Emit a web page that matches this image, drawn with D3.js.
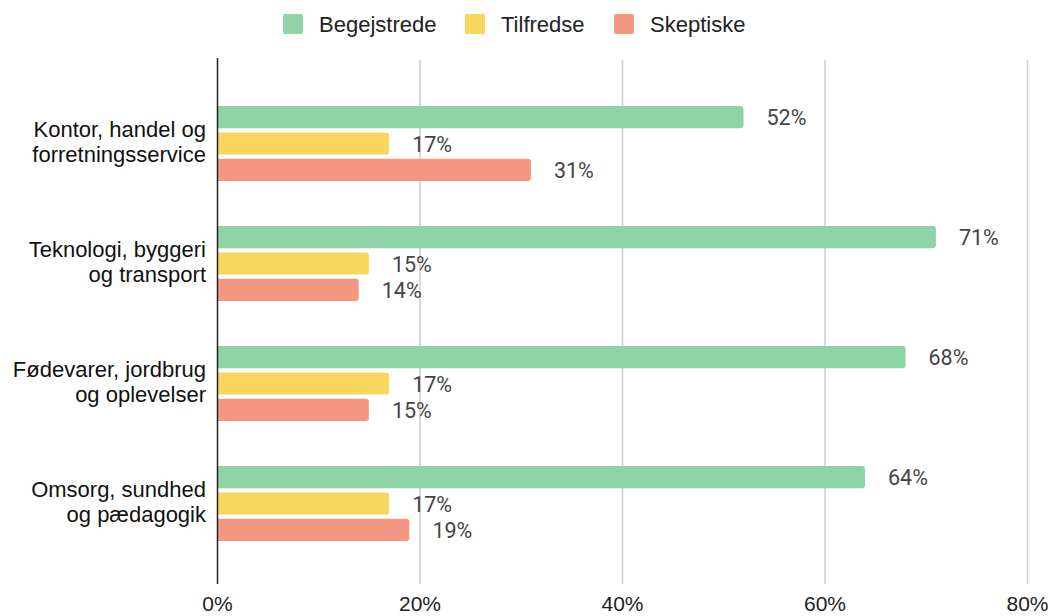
<!DOCTYPE html>
<html><head><meta charset="utf-8">
<script src="https://cdn.jsdelivr.net/npm/d3@7"></script>
<style>body{margin:0;background:#fff}svg{display:block}</style>
</head><body>
<svg id="c" width="1050" height="616"></svg>
<script>
const categories = [["Kontor, handel og","forretningsservice"],["Teknologi, byggeri","og transport"],["Fødevarer, jordbrug","og oplevelser"],["Omsorg, sundhed","og pædagogik"]];
const seriesNames = ["Begejstrede","Tilfredse","Skeptiske"];
const begejstrede = [52,71,68,64];
const tilfredse = [17,15,17,17];
const skeptiske = [31,14,15,19];
const tickValues = [0,20,40,60,80];
const colors = ["#8dd3a5","#f9d65e","#f59682"];

const series = [begejstrede, tilfredse, skeptiske];
const svg = d3.select("#c");
const x = d3.scaleLinear().domain([0,80]).range([217,1027]);
const y = d3.scaleBand().domain(d3.range(categories.length)).range([82,562]);
const yInner = d3.scaleBand().domain(d3.range(3)).range([24,99]).paddingInner(0.16);

// grid
svg.append("g").selectAll("line").data(tickValues.slice(1)).join("line")
  .attr("x1",d=>x(d)+0.5).attr("x2",d=>x(d)+0.5).attr("y1",60).attr("y2",584)
  .attr("stroke","#cccccc").attr("stroke-width",1.5);

// axis ticks labels
const ax = svg.append("g").attr("transform","translate(0,611)")
  .call(d3.axisBottom(x).tickValues(tickValues).tickFormat(d=>d+"%").tickSize(0).tickPadding(0));
ax.select(".domain").remove();
ax.selectAll("text").attr("font-family","Liberation Sans, Arial, sans-serif").attr("font-size",21)
  .attr("fill","#222").attr("dy",0).attr("y",0);

// bars
const groups = svg.append("g").selectAll("g").data(categories).join("g")
  .attr("transform",(d,i)=>`translate(0,${y(i)})`);
groups.each(function(cat,i){
  const g = d3.select(this);
  series.forEach((s,j)=>{
    const w = x(s[i]) - x(0);
    const h = yInner.bandwidth();
    const y0 = yInner(j);
    const r = 3;
    g.append("path")
      .attr("d",`M${x(0)},${y0}H${x(0)+w-r}Q${x(0)+w},${y0} ${x(0)+w},${y0+r}V${y0+h-r}Q${x(0)+w},${y0+h} ${x(0)+w-r},${y0+h}H${x(0)}Z`)
      .attr("fill",colors[j]);
    g.append("text").attr("x",x(s[i])+23).attr("y",y0+h/2+8)
      .attr("font-family","Roboto, sans-serif").attr("font-size",21.5).attr("fill","#444")
      .text(s[i]+"%");
  });
  const t = g.append("text").attr("text-anchor","end")
    .attr("font-family","Liberation Sans, Arial, sans-serif").attr("font-size",22).attr("fill","#111");
  cat.forEach((line,k)=>{
    t.append("tspan").attr("x",206).attr("y",55 + k*25).text(line);
  });
});

// axis line
svg.append("line").attr("x1",217.5).attr("x2",217.5).attr("y1",58).attr("y2",584)
  .attr("stroke","#222").attr("stroke-width",1.5);

// legend
const legX = [283,465,614];
const leg = svg.append("g").selectAll("g").data(seriesNames).join("g")
  .attr("transform",(d,i)=>`translate(${legX[i]},14)`);
leg.append("rect").attr("width",20).attr("height",20).attr("rx",2).attr("fill",(d,i)=>colors[i]);
leg.append("text").attr("x",36).attr("y",18).attr("font-family","Liberation Sans, Arial, sans-serif")
  .attr("font-size",22).attr("fill","#222").text(d=>d);
</script>
</body></html>
